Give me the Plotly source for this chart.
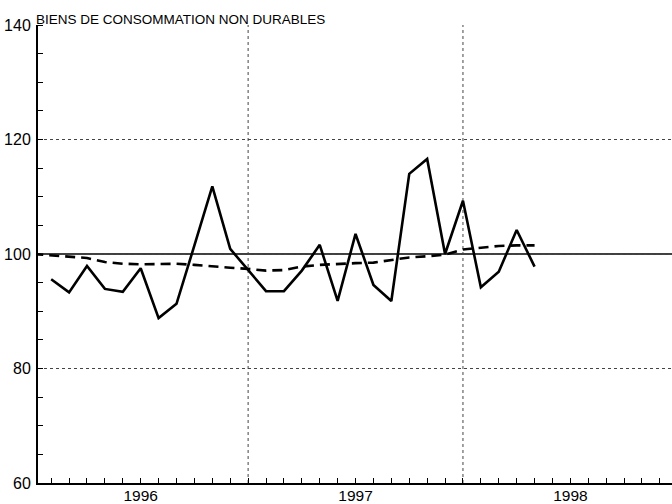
import plotly.graph_objects as go

title_text = "BIENS DE CONSOMMATION NON DURABLES"
year_labels = ["1996", "1997", "1998"]
year_label_pos = [1996.5, 1997.5, 1998.5]
year_bounds = [1997, 1998]

# monthly observations, Feb 1996 .. May 1998 (month index 1 = Feb 1996)
solid_month_idx = list(range(1, 29))
solid_values = [95.6, 93.3, 97.9, 93.9, 93.4, 97.5, 88.8, 91.3, 101.5, 111.8,
                100.9, 97.2, 93.5, 93.5, 97.1, 101.6, 91.8, 103.5, 94.6, 91.8,
                114.0, 116.6, 100.0, 109.3, 94.2, 96.9, 104.2, 97.8]

# trend, Jan 1996 .. May 1998
trend_month_idx = list(range(0, 29))
trend_values = [100.0, 99.8, 99.5, 99.3, 98.6, 98.3, 98.2, 98.3, 98.3, 98.1, 97.8,
                97.6, 97.4, 97.1, 97.2, 97.8, 98.1, 98.3, 98.4, 98.5, 99.0,
                99.4, 99.6, 99.9, 100.8, 101.1, 101.4, 101.5, 101.5]

solid_x = [1996 + m / 12 for m in solid_month_idx]
trend_x = [1996 + m / 12 for m in trend_month_idx]

fig = go.Figure()
fig.add_trace(go.Scatter(x=trend_x, y=trend_values, mode="lines",
                         line=dict(color="black", width=2.6, dash="10px,6px"),
                         showlegend=False))
fig.add_trace(go.Scatter(x=solid_x, y=solid_values, mode="lines",
                         line=dict(color="black", width=2.6),
                         showlegend=False))

for yb in year_bounds:
    fig.add_shape(type="line", xref="x", yref="y", x0=yb, x1=yb, y0=60, y1=140,
                  line=dict(color="#444", width=1, dash="dot"), layer="below")
fig.add_shape(type="line", xref="paper", yref="y", x0=0, x1=1, y0=100, y1=100,
              line=dict(color="black", width=1.6), layer="below")

fig.update_layout(
    template="none",
    width=672, height=504,
    margin=dict(l=37.5, r=0, t=25, b=20.5),
    paper_bgcolor="white", plot_bgcolor="white",
    font=dict(family="Liberation Sans", size=16, color="black"),
    title=dict(text=title_text, xref="container", x=36 / 672, xanchor="left",
               yref="paper", y=1, yanchor="bottom", pad=dict(b=1, l=0, r=0, t=0),
               font=dict(family="Liberation Sans", size=13.5, color="black")),
    xaxis=dict(range=[1996.022, 1998.973], tickvals=year_label_pos,
               ticktext=year_labels, ticks="", showgrid=False, zeroline=False,
               showline=True, linecolor="black", linewidth=2, automargin=False,
               ticklabelstandoff=-3, tickfont=dict(size=15.5),
               minor=dict(ticks="inside", tick0=1996, dtick=1 / 12, ticklen=5,
                          tickcolor="black", tickwidth=1, showgrid=False)),
    yaxis=dict(range=[60, 140], tickvals=[60, 80, 100, 120, 140],
               ticks="", showgrid=True, gridcolor="#444", gridwidth=1,
               griddash="dot", zeroline=False, showline=True, automargin=False,
               linecolor="black", linewidth=2, ticklabelstandoff=2,
               minor=dict(ticks="inside", dtick=5, ticklen=5,
                          tickcolor="black", tickwidth=1, showgrid=False)),
)

fig.write_html("out.html", config={"displayModeBar": False},
               post_script="document.body.style.margin='0px';"
                           "document.body.style.overflow='hidden';")
